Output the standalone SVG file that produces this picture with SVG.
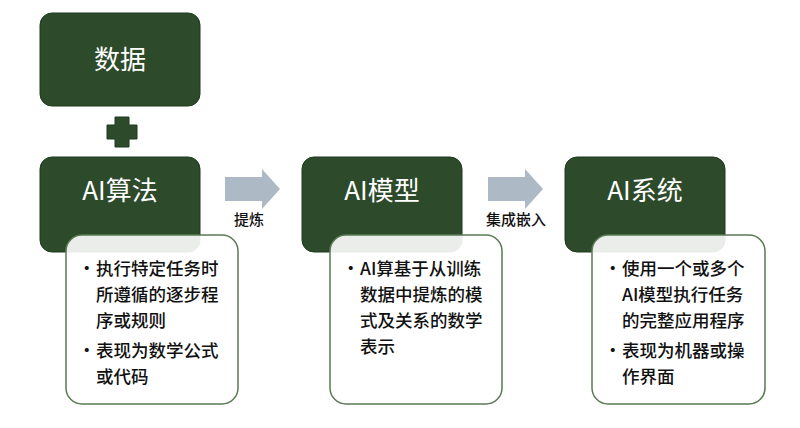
<svg xmlns="http://www.w3.org/2000/svg" width="800" height="428" viewBox="0 0 800 428">
<style>
.d{fill:#2d4a2b;stroke:#1f3a1f;stroke-width:1}
.w{fill:#fff;fill-opacity:0.9;stroke:#5a7a55;stroke-width:1.5}
.t{font-family:"Noto Sans CJK SC","Noto Sans",sans-serif;font-size:26px;fill:#fff;text-anchor:middle}
.b{font-family:"Noto Sans CJK SC","Noto Sans",sans-serif;font-size:17.5px;font-weight:500;fill:#111}
.l{font-family:"Noto Sans CJK SC","Noto Sans",sans-serif;font-size:15px;font-weight:500;fill:#111;text-anchor:middle}
.a{fill:#adb9c4}
</style>
<rect width="800" height="428" fill="#fff"/>
<g id="data"><rect class="d" x="40" y="13" width="160" height="93" rx="12"/><text class="t" x="120" y="69">数据</text></g>
<g id="plus"><path class="d" d="M115 117h14v8h8v14h-8v8h-14v-8h-8v-14h8z" stroke="none"/></g>
<g id="algo"><rect class="d" x="40" y="157" width="160" height="95" rx="12"/><text class="t" x="120" y="200">AI算法</text>
<rect class="w" x="66" y="235" width="172" height="169" rx="16"/>
<text class="b"><tspan x="78" y="275">•</tspan><tspan x="96" y="275">执行特定任务时</tspan><tspan x="96" y="301">所遵循的逐步程</tspan><tspan x="96" y="327">序或规则</tspan><tspan x="78" y="357">•</tspan><tspan x="96" y="357">表现为数学公式</tspan><tspan x="96" y="383">或代码</tspan></text></g>
<g id="model"><rect class="d" x="302" y="157" width="160" height="95" rx="12"/><text class="t" x="382" y="200">AI模型</text>
<rect class="w" x="330" y="235" width="172" height="169" rx="16"/>
<text class="b"><tspan x="342" y="275">•</tspan><tspan x="360" y="275">AI算基于从训练</tspan><tspan x="360" y="301">数据中提炼的模</tspan><tspan x="360" y="327">式及关系的数学</tspan><tspan x="360" y="353">表示</tspan></text></g>
<g id="system"><rect class="d" x="565" y="157" width="160" height="95" rx="12"/><text class="t" x="645" y="200">AI系统</text>
<rect class="w" x="592" y="235" width="173" height="169" rx="16"/>
<text class="b"><tspan x="604" y="275">•</tspan><tspan x="622" y="275">使用一个或多个</tspan><tspan x="622" y="301">AI模型执行任务</tspan><tspan x="622" y="327">的完整应用程序</tspan><tspan x="604" y="357">•</tspan><tspan x="622" y="357">表现为机器或操</tspan><tspan x="622" y="383">作界面</tspan></text></g>
<g id="connectors">
<path class="a" d="M225 177h37v-8l18 20l-18 20v-8h-37z"/>
<text class="l" x="249" y="225">提炼</text>
<path class="a" d="M488 177h37v-8l18 20l-18 20v-8h-37z"/>
<text class="l" x="516" y="225">集成嵌入</text>
</g>
</svg>
